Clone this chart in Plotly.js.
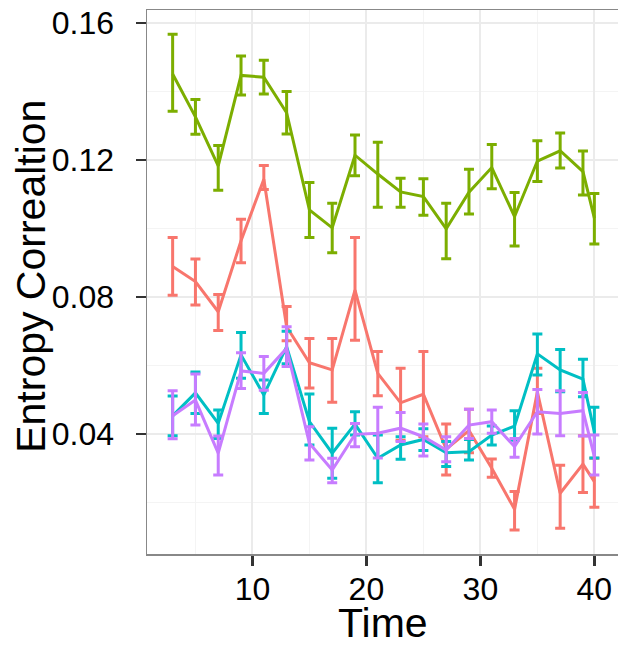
<!DOCTYPE html>
<html>
<head>
<meta charset="utf-8">
<script src="https://cdn.plot.ly/plotly-3.0.1.min.js"></script>
<style>
html, body { margin: 0; padding: 0; background: #ffffff; overflow: hidden; width: 618px; height: 645px; }
#chart { width: 640px; height: 645px; }
</style>
</head>
<body>
<div id="chart"></div>
<script>
// Time points
const time = [3, 5, 7, 9, 11, 13, 15, 17, 19, 21, 23, 25, 27, 29, 31, 33, 35, 37, 39, 40];

// Series (mean, upper bound, lower bound)
const redMean = [0.0889, 0.0845, 0.0757, 0.0964, 0.1144, 0.0713, 0.0608, 0.0587, 0.0820, 0.0577, 0.0491, 0.0516, 0.0356, 0.0410, 0.0300, 0.0180, 0.0523, 0.0227, 0.0312, 0.0261];
const redHi   = [0.0974, 0.0911, 0.0807, 0.1027, 0.1184, 0.0772, 0.0679, 0.0679, 0.0974, 0.0641, 0.0592, 0.0641, 0.0429, 0.0472, 0.0327, 0.0232, 0.0592, 0.0309, 0.0395, 0.0329];
const redLo   = [0.0805, 0.0777, 0.0702, 0.0900, 0.1114, 0.0672, 0.0534, 0.0493, 0.0674, 0.0512, 0.0382, 0.0392, 0.0280, 0.0345, 0.0274, 0.0120, 0.0460, 0.0125, 0.0229, 0.0186];

const greenMean = [0.1451, 0.1326, 0.1183, 0.1447, 0.1442, 0.1338, 0.1054, 0.1002, 0.1214, 0.1159, 0.1107, 0.1093, 0.0999, 0.1106, 0.1178, 0.1035, 0.1197, 0.1227, 0.1166, 0.1030];
const greenHi   = [0.1567, 0.1377, 0.1242, 0.1504, 0.1491, 0.1400, 0.1134, 0.1074, 0.1273, 0.1252, 0.1147, 0.1145, 0.1074, 0.1173, 0.1245, 0.1105, 0.1256, 0.1279, 0.1226, 0.1102];
const greenLo   = [0.1342, 0.1275, 0.1112, 0.1390, 0.1393, 0.1276, 0.0974, 0.0929, 0.1154, 0.1062, 0.1062, 0.1039, 0.0912, 0.1042, 0.1116, 0.0949, 0.1137, 0.1177, 0.1098, 0.0955];

const cyanMean = [0.0453, 0.0520, 0.0431, 0.0631, 0.0514, 0.0655, 0.0436, 0.0344, 0.0429, 0.0329, 0.0368, 0.0384, 0.0345, 0.0348, 0.0397, 0.0423, 0.0634, 0.0587, 0.0560, 0.0405];
const cyanHi   = [0.0511, 0.0581, 0.0470, 0.0696, 0.0558, 0.0700, 0.0517, 0.0417, 0.0465, 0.0397, 0.0392, 0.0415, 0.0378, 0.0384, 0.0423, 0.0468, 0.0692, 0.0647, 0.0618, 0.0478];
const cyanLo   = [0.0395, 0.0460, 0.0387, 0.0563, 0.0460, 0.0605, 0.0368, 0.0271, 0.0397, 0.0258, 0.0326, 0.0352, 0.0305, 0.0324, 0.0368, 0.0382, 0.0572, 0.0523, 0.0509, 0.0330];

const purpleMean = [0.0453, 0.0499, 0.0344, 0.0584, 0.0577, 0.0650, 0.0373, 0.0295, 0.0399, 0.0402, 0.0417, 0.0392, 0.0353, 0.0426, 0.0436, 0.0363, 0.0465, 0.0460, 0.0468, 0.0334];
const purpleHi   = [0.0526, 0.0575, 0.0394, 0.0637, 0.0626, 0.0713, 0.0421, 0.0329, 0.0431, 0.0478, 0.0463, 0.0429, 0.0392, 0.0472, 0.0470, 0.0387, 0.0530, 0.0526, 0.0521, 0.0397];
const purpleLo   = [0.0386, 0.0426, 0.0280, 0.0533, 0.0528, 0.0597, 0.0324, 0.0258, 0.0363, 0.0330, 0.0378, 0.0336, 0.0319, 0.0387, 0.0402, 0.0332, 0.0400, 0.0395, 0.0394, 0.0280];

const xTicks = [10, 20, 30, 40];
const yTicks = [0.04, 0.08, 0.12, 0.16];
const xTitle = 'Time';
const yTitle = 'Entropy Correaltion';

function series(mean, hi, lo, color) {
  return {
    x: time, y: mean, type: 'scatter', mode: 'lines',
    line: { color: color, width: 3 },
    error_y: {
      type: 'data', symmetric: false,
      array: hi.map((h, i) => h - mean[i]),
      arrayminus: lo.map((l, i) => mean[i] - l),
      color: color, thickness: 3, width: 5
    },
    showlegend: false, hoverinfo: 'skip'
  };
}

const data = [
  series(redMean, redHi, redLo, '#F8766D'),
  series(greenMean, greenHi, greenLo, '#7CAE00'),
  series(cyanMean, cyanHi, cyanLo, '#00BFC4'),
  series(purpleMean, purpleHi, purpleLo, '#C77CFF')
];

const fontFam = 'Liberation Sans, Arial, sans-serif';
const titleFont = { size: 41, family: fontFam, color: '#000000' };
const layout = {
  width: 640, height: 645,
  margin: { l: 147, r: 20, t: 10, b: 91 },
  paper_bgcolor: '#ffffff', plot_bgcolor: '#ffffff',
  font: { family: fontFam, color: '#000000' },
  xaxis: {
    range: [0.75, 42.25], tickvals: xTicks, ticktext: xTicks.map(String),
    ticks: 'outside', ticklen: 10, tickwidth: 2.5, tickcolor: '#333333',
    tickfont: { size: 32, color: '#000000', family: fontFam },
    ticklabelposition: 'outside', ticklabelstandoff: -4,
    showgrid: true, gridcolor: '#ebebeb', gridwidth: 2,
    minor: { tickvals: [5, 15, 25, 35], showgrid: true, gridcolor: '#f4f4f4', gridwidth: 1.5, ticks: '' },
    showline: true, mirror: true, linecolor: '#888888', linewidth: 1.5,
    zeroline: false,
    automargin: false
  },
  yaxis: {
    range: [0.00496, 0.1638], tickvals: yTicks, ticktext: yTicks.map(v => v.toFixed(2)),
    ticks: 'outside', ticklen: 10, tickwidth: 2.5, tickcolor: '#333333',
    tickfont: { size: 32, color: '#000000', family: fontFam },
    ticklabelposition: 'outside', ticklabelstandoff: 15,
    showgrid: true, gridcolor: '#ebebeb', gridwidth: 2,
    minor: { tickvals: [0.02, 0.06, 0.10, 0.14], showgrid: true, gridcolor: '#f4f4f4', gridwidth: 1.5, ticks: '' },
    showline: true, mirror: true, linecolor: '#888888', linewidth: 1.5,
    zeroline: false,
    automargin: false
  },
  annotations: [
    { text: xTitle, xref: 'paper', yref: 'paper', x: 0.4996, y: -0.127,
      xanchor: 'center', yanchor: 'middle', showarrow: false, font: titleFont },
    { text: yTitle, xref: 'paper', yref: 'paper', x: -0.2467, y: 0.5101, textangle: -90,
      xanchor: 'center', yanchor: 'middle', showarrow: false, font: titleFont }
  ]
};

Plotly.newPlot('chart', data, layout, { displayModeBar: false, staticPlot: true });
</script>
</body>
</html>
